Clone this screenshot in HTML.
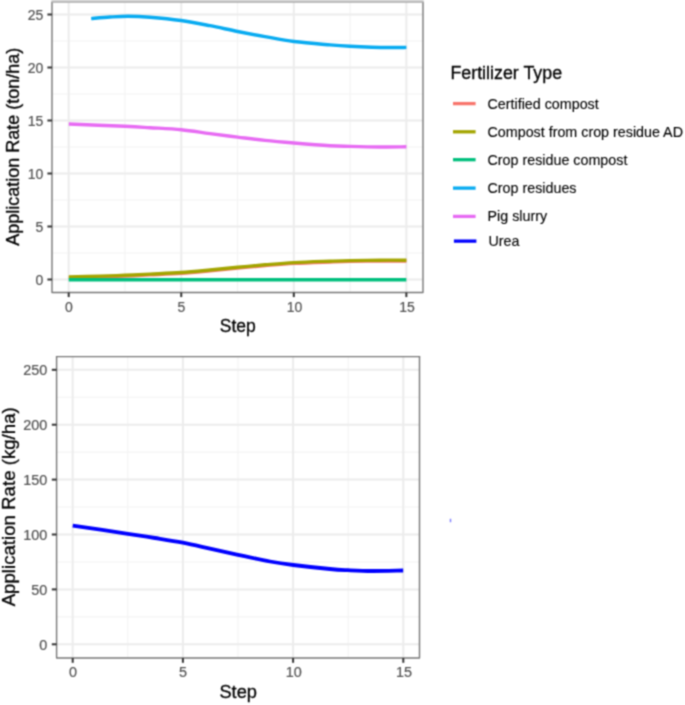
<!DOCTYPE html>
<html lang="en"><head><meta charset="utf-8"><title>Fertilizer application rate by step</title>
<style>
html,body{margin:0;padding:0;background:#fff;}
body{width:685px;height:705px;overflow:hidden;font-family:"Liberation Sans",Arial,Helvetica,sans-serif;}
svg{display:block;}
</style></head><body>
<svg width="685" height="705" viewBox="0 0 685 705" font-family="'Liberation Sans', Arial, Helvetica, sans-serif">
<defs><filter id="soft" x="0" y="0" width="685" height="705" filterUnits="userSpaceOnUse" color-interpolation-filters="sRGB"><feConvolveMatrix order="3" kernelMatrix="0.04840 0.12320 0.04840 0.12320 0.31360 0.12320 0.04840 0.12320 0.04840" divisor="1" edgeMode="duplicate" preserveAlpha="true"/></filter></defs>
<rect width="685" height="705" fill="#fff"/>
<g filter="url(#soft)">
<rect width="685" height="705" fill="#fff"/>
<rect x="51.3" y="0" width="372.4" height="1.3" fill="#dcdcdc"/>
<g>
<line x1="124.98" x2="124.98" y1="2.00" y2="292.50" stroke="#f3f3f3" stroke-width="1.1"/>
<line x1="237.53" x2="237.53" y1="2.00" y2="292.50" stroke="#f3f3f3" stroke-width="1.1"/>
<line x1="350.07" x2="350.07" y1="2.00" y2="292.50" stroke="#f3f3f3" stroke-width="1.1"/>
<line x1="52.00" x2="423.00" y1="253.00" y2="253.00" stroke="#f3f3f3" stroke-width="1.1"/>
<line x1="52.00" x2="423.00" y1="200.00" y2="200.00" stroke="#f3f3f3" stroke-width="1.1"/>
<line x1="52.00" x2="423.00" y1="147.00" y2="147.00" stroke="#f3f3f3" stroke-width="1.1"/>
<line x1="52.00" x2="423.00" y1="94.00" y2="94.00" stroke="#f3f3f3" stroke-width="1.1"/>
<line x1="52.00" x2="423.00" y1="41.00" y2="41.00" stroke="#f3f3f3" stroke-width="1.1"/>
<line x1="68.70" x2="68.70" y1="2.00" y2="292.50" stroke="#ececec" stroke-width="2.0"/>
<line x1="181.25" x2="181.25" y1="2.00" y2="292.50" stroke="#ececec" stroke-width="2.0"/>
<line x1="293.80" x2="293.80" y1="2.00" y2="292.50" stroke="#ececec" stroke-width="2.0"/>
<line x1="406.35" x2="406.35" y1="2.00" y2="292.50" stroke="#ececec" stroke-width="2.0"/>
<line x1="52.00" x2="423.00" y1="279.50" y2="279.50" stroke="#ececec" stroke-width="2.0"/>
<line x1="52.00" x2="423.00" y1="226.50" y2="226.50" stroke="#ececec" stroke-width="2.0"/>
<line x1="52.00" x2="423.00" y1="173.50" y2="173.50" stroke="#ececec" stroke-width="2.0"/>
<line x1="52.00" x2="423.00" y1="120.50" y2="120.50" stroke="#ececec" stroke-width="2.0"/>
<line x1="52.00" x2="423.00" y1="67.50" y2="67.50" stroke="#ececec" stroke-width="2.0"/>
<line x1="52.00" x2="423.00" y1="14.50" y2="14.50" stroke="#ececec" stroke-width="2.0"/>
</g>
<g fill="none" stroke-width="3.4" stroke-linecap="butt" stroke-linejoin="round">
<path d="M68.80,277.70 C74.00,277.57 90.63,277.17 100.00,276.90 C109.37,276.63 116.67,276.43 125.00,276.10 C133.33,275.77 140.67,275.37 150.00,274.90 C159.33,274.43 171.00,273.98 181.00,273.30 C191.00,272.62 200.57,271.67 210.00,270.80 C219.43,269.93 228.43,268.97 237.60,268.10 C246.77,267.23 255.60,266.38 265.00,265.60 C274.40,264.82 283.17,264.00 294.00,263.40 C304.83,262.80 320.67,262.33 330.00,262.00 C339.33,261.67 341.67,261.57 350.00,261.40 C358.33,261.23 370.60,261.07 380.00,261.00 C389.40,260.93 402.00,261.00 406.40,261.00" stroke="#F8766D"/>
<path d="M68.80,276.90 C74.00,276.77 90.63,276.37 100.00,276.10 C109.37,275.83 116.67,275.63 125.00,275.30 C133.33,274.97 140.67,274.57 150.00,274.10 C159.33,273.63 171.00,273.18 181.00,272.50 C191.00,271.82 200.57,270.87 210.00,270.00 C219.43,269.13 228.43,268.17 237.60,267.30 C246.77,266.43 255.60,265.58 265.00,264.80 C274.40,264.02 283.17,263.20 294.00,262.60 C304.83,262.00 320.67,261.53 330.00,261.20 C339.33,260.87 341.67,260.77 350.00,260.60 C358.33,260.43 370.60,260.27 380.00,260.20 C389.40,260.13 402.00,260.20 406.40,260.20" stroke="#A3A500"/>
<path d="M68.70,279.80 L406.35,279.80" stroke="#00BF7D"/>
<path d="M91.20,18.60 C94.33,18.33 103.87,17.40 110.00,17.00 C116.13,16.60 121.33,16.17 128.00,16.20 C134.67,16.23 141.17,16.48 150.00,17.20 C158.83,17.92 171.00,19.08 181.00,20.50 C191.00,21.92 200.57,23.87 210.00,25.70 C219.43,27.53 228.43,29.68 237.60,31.50 C246.77,33.32 255.60,34.93 265.00,36.60 C274.40,38.27 283.17,40.12 294.00,41.50 C304.83,42.88 320.67,44.10 330.00,44.90 C339.33,45.70 343.00,45.92 350.00,46.30 C357.00,46.68 365.33,47.00 372.00,47.20 C378.67,47.40 384.27,47.47 390.00,47.50 C395.73,47.53 403.67,47.42 406.40,47.40" stroke="#08ABF1"/>
<path d="M68.80,124.00 C78.17,124.38 111.47,125.68 125.00,126.30 C138.53,126.92 140.62,127.13 150.00,127.70 C159.38,128.27 171.30,128.72 181.30,129.70 C191.30,130.68 200.62,132.37 210.00,133.60 C219.38,134.83 228.43,135.97 237.60,137.10 C246.77,138.23 255.60,139.42 265.00,140.40 C274.40,141.38 283.17,142.12 294.00,143.00 C304.83,143.88 320.67,145.13 330.00,145.70 C339.33,146.27 341.67,146.18 350.00,146.40 C358.33,146.62 370.60,146.93 380.00,147.00 C389.40,147.07 402.00,146.83 406.40,146.80" stroke="#E76BF3"/>
</g>
<path d="M52.00,2.00 V292.50 H423.00 V2.00" fill="none" stroke="#787878" stroke-width="1.4" stroke-linejoin="round"/>
<line x1="51.30" x2="423.70" y1="2.00" y2="2.00" stroke="#a8a8a8" stroke-width="1.4"/>
<line x1="68.70" x2="68.70" y1="292.50" y2="297.10" stroke="#333" stroke-width="2.0"/>
<text transform="translate(68.90,311.60) scale(1,1.080)" font-size="14.00" fill="#525252" stroke="#525252" stroke-width="0.2" text-anchor="middle">0</text>
<line x1="181.25" x2="181.25" y1="292.50" y2="297.10" stroke="#333" stroke-width="2.0"/>
<text transform="translate(181.45,311.60) scale(1,1.080)" font-size="14.00" fill="#525252" stroke="#525252" stroke-width="0.2" text-anchor="middle">5</text>
<line x1="293.80" x2="293.80" y1="292.50" y2="297.10" stroke="#333" stroke-width="2.0"/>
<text transform="translate(294.50,311.60) scale(1,1.080)" font-size="14.00" fill="#525252" stroke="#525252" stroke-width="0.2" text-anchor="middle">10</text>
<line x1="406.35" x2="406.35" y1="292.50" y2="297.10" stroke="#333" stroke-width="2.0"/>
<text transform="translate(407.05,311.60) scale(1,1.080)" font-size="14.00" fill="#525252" stroke="#525252" stroke-width="0.2" text-anchor="middle">15</text>
<line x1="47.40" x2="52.00" y1="279.50" y2="279.50" stroke="#333" stroke-width="2.0"/>
<text transform="translate(43.20,284.61) scale(1,1.080)" font-size="14.00" fill="#525252" stroke="#525252" stroke-width="0.2" text-anchor="end">0</text>
<line x1="47.40" x2="52.00" y1="226.50" y2="226.50" stroke="#333" stroke-width="2.0"/>
<text transform="translate(43.20,231.61) scale(1,1.080)" font-size="14.00" fill="#525252" stroke="#525252" stroke-width="0.2" text-anchor="end">5</text>
<line x1="47.40" x2="52.00" y1="173.50" y2="173.50" stroke="#333" stroke-width="2.0"/>
<text transform="translate(43.20,178.61) scale(1,1.080)" font-size="14.00" fill="#525252" stroke="#525252" stroke-width="0.2" text-anchor="end">10</text>
<line x1="47.40" x2="52.00" y1="120.50" y2="120.50" stroke="#333" stroke-width="2.0"/>
<text transform="translate(43.20,125.61) scale(1,1.080)" font-size="14.00" fill="#525252" stroke="#525252" stroke-width="0.2" text-anchor="end">15</text>
<line x1="47.40" x2="52.00" y1="67.50" y2="67.50" stroke="#333" stroke-width="2.0"/>
<text transform="translate(43.20,72.61) scale(1,1.080)" font-size="14.00" fill="#525252" stroke="#525252" stroke-width="0.2" text-anchor="end">20</text>
<line x1="47.40" x2="52.00" y1="14.50" y2="14.50" stroke="#333" stroke-width="2.0"/>
<text transform="translate(43.20,19.61) scale(1,1.080)" font-size="14.00" fill="#525252" stroke="#525252" stroke-width="0.2" text-anchor="end">25</text>
<text x="237.8" y="331.6" font-size="17.5" fill="#000" stroke="#000" stroke-width="0.3" text-anchor="middle">Step</text>
<text transform="translate(19.2,146.8) rotate(-90)" font-size="18.0" fill="#000" stroke="#000" stroke-width="0.3" text-anchor="middle">Application Rate (ton/ha)</text>
<g>
<line x1="127.80" x2="127.80" y1="356.60" y2="658.00" stroke="#f3f3f3" stroke-width="1.1"/>
<line x1="238.00" x2="238.00" y1="356.60" y2="658.00" stroke="#f3f3f3" stroke-width="1.1"/>
<line x1="348.20" x2="348.20" y1="356.60" y2="658.00" stroke="#f3f3f3" stroke-width="1.1"/>
<line x1="56.60" x2="419.50" y1="616.85" y2="616.85" stroke="#f3f3f3" stroke-width="1.1"/>
<line x1="56.60" x2="419.50" y1="561.95" y2="561.95" stroke="#f3f3f3" stroke-width="1.1"/>
<line x1="56.60" x2="419.50" y1="507.05" y2="507.05" stroke="#f3f3f3" stroke-width="1.1"/>
<line x1="56.60" x2="419.50" y1="452.15" y2="452.15" stroke="#f3f3f3" stroke-width="1.1"/>
<line x1="56.60" x2="419.50" y1="397.25" y2="397.25" stroke="#f3f3f3" stroke-width="1.1"/>
<line x1="72.70" x2="72.70" y1="356.60" y2="658.00" stroke="#ececec" stroke-width="2.0"/>
<line x1="182.90" x2="182.90" y1="356.60" y2="658.00" stroke="#ececec" stroke-width="2.0"/>
<line x1="293.10" x2="293.10" y1="356.60" y2="658.00" stroke="#ececec" stroke-width="2.0"/>
<line x1="403.30" x2="403.30" y1="356.60" y2="658.00" stroke="#ececec" stroke-width="2.0"/>
<line x1="56.60" x2="419.50" y1="644.30" y2="644.30" stroke="#ececec" stroke-width="2.0"/>
<line x1="56.60" x2="419.50" y1="589.40" y2="589.40" stroke="#ececec" stroke-width="2.0"/>
<line x1="56.60" x2="419.50" y1="534.50" y2="534.50" stroke="#ececec" stroke-width="2.0"/>
<line x1="56.60" x2="419.50" y1="479.60" y2="479.60" stroke="#ececec" stroke-width="2.0"/>
<line x1="56.60" x2="419.50" y1="424.70" y2="424.70" stroke="#ececec" stroke-width="2.0"/>
<line x1="56.60" x2="419.50" y1="369.80" y2="369.80" stroke="#ececec" stroke-width="2.0"/>
</g>
<path d="M72.70,525.60 C81.90,526.97 114.18,531.73 127.90,533.80 C141.62,535.87 145.85,536.52 155.00,538.00 C164.15,539.48 173.63,540.93 182.80,542.70 C191.97,544.47 200.80,546.58 210.00,548.60 C219.20,550.62 228.00,552.65 238.00,554.80 C248.00,556.95 260.78,559.80 270.00,561.50 C279.22,563.20 283.30,563.75 293.30,565.00 C303.30,566.25 320.88,568.13 330.00,569.00 C339.12,569.87 341.00,569.87 348.00,570.20 C355.00,570.53 362.80,570.95 372.00,571.00 C381.20,571.05 398.00,570.58 403.20,570.50" fill="none" stroke="#0000FF" stroke-width="3.8"/>
<path d="M56.60,356.60 V658.00 H419.50 V356.60" fill="none" stroke="#787878" stroke-width="1.4" stroke-linejoin="round"/>
<line x1="55.90" x2="420.20" y1="356.60" y2="356.60" stroke="#787878" stroke-width="1.4"/>
<line x1="72.70" x2="72.70" y1="658.00" y2="662.80" stroke="#333" stroke-width="2.0"/>
<text transform="translate(72.90,677.20) scale(1,1.080)" font-size="14.40" fill="#525252" stroke="#525252" stroke-width="0.2" text-anchor="middle">0</text>
<line x1="182.90" x2="182.90" y1="658.00" y2="662.80" stroke="#333" stroke-width="2.0"/>
<text transform="translate(183.10,677.20) scale(1,1.080)" font-size="14.40" fill="#525252" stroke="#525252" stroke-width="0.2" text-anchor="middle">5</text>
<line x1="293.10" x2="293.10" y1="658.00" y2="662.80" stroke="#333" stroke-width="2.0"/>
<text transform="translate(293.80,677.20) scale(1,1.080)" font-size="14.40" fill="#525252" stroke="#525252" stroke-width="0.2" text-anchor="middle">10</text>
<line x1="403.30" x2="403.30" y1="658.00" y2="662.80" stroke="#333" stroke-width="2.0"/>
<text transform="translate(404.00,677.20) scale(1,1.080)" font-size="14.40" fill="#525252" stroke="#525252" stroke-width="0.2" text-anchor="middle">15</text>
<line x1="51.80" x2="56.60" y1="644.30" y2="644.30" stroke="#333" stroke-width="2.0"/>
<text transform="translate(47.20,649.57) scale(1,1.080)" font-size="14.40" fill="#525252" stroke="#525252" stroke-width="0.2" text-anchor="end">0</text>
<line x1="51.80" x2="56.60" y1="589.40" y2="589.40" stroke="#333" stroke-width="2.0"/>
<text transform="translate(47.20,594.67) scale(1,1.080)" font-size="14.40" fill="#525252" stroke="#525252" stroke-width="0.2" text-anchor="end">50</text>
<line x1="51.80" x2="56.60" y1="534.50" y2="534.50" stroke="#333" stroke-width="2.0"/>
<text transform="translate(47.20,539.77) scale(1,1.080)" font-size="14.40" fill="#525252" stroke="#525252" stroke-width="0.2" text-anchor="end">100</text>
<line x1="51.80" x2="56.60" y1="479.60" y2="479.60" stroke="#333" stroke-width="2.0"/>
<text transform="translate(47.20,484.87) scale(1,1.080)" font-size="14.40" fill="#525252" stroke="#525252" stroke-width="0.2" text-anchor="end">150</text>
<line x1="51.80" x2="56.60" y1="424.70" y2="424.70" stroke="#333" stroke-width="2.0"/>
<text transform="translate(47.20,429.97) scale(1,1.080)" font-size="14.40" fill="#525252" stroke="#525252" stroke-width="0.2" text-anchor="end">200</text>
<line x1="51.80" x2="56.60" y1="369.80" y2="369.80" stroke="#333" stroke-width="2.0"/>
<text transform="translate(47.20,375.07) scale(1,1.080)" font-size="14.40" fill="#525252" stroke="#525252" stroke-width="0.2" text-anchor="end">250</text>
<text x="238.2" y="698.3" font-size="18.25" fill="#000" stroke="#000" stroke-width="0.3" text-anchor="middle">Step</text>
<text transform="translate(14.65,506.8) rotate(-90)" font-size="18.67" fill="#000" stroke="#000" stroke-width="0.3" text-anchor="middle">Application Rate (kg/ha)</text>
<text x="450.4" y="78.5" font-size="17.85" fill="#000" stroke="#000" stroke-width="0.3">Fertilizer Type</text>
<line x1="453.0" x2="475.6" y1="103.60" y2="103.60" stroke="#F8766D" stroke-width="3.3"/>
<text x="487.50" y="108.60" font-size="14.3" fill="#000" stroke="#000" stroke-width="0.12">Certified compost</text>
<line x1="453.0" x2="475.6" y1="131.80" y2="131.80" stroke="#A3A500" stroke-width="3.3"/>
<text x="487.50" y="136.80" font-size="14.3" fill="#000" stroke="#000" stroke-width="0.12">Compost from crop residue AD</text>
<line x1="453.0" x2="475.6" y1="159.70" y2="159.70" stroke="#00BF7D" stroke-width="3.3"/>
<text x="487.50" y="164.70" font-size="14.3" fill="#000" stroke="#000" stroke-width="0.12">Crop residue compost</text>
<line x1="453.0" x2="475.6" y1="188.10" y2="188.10" stroke="#08ABF1" stroke-width="3.3"/>
<text x="487.50" y="193.10" font-size="14.3" fill="#000" stroke="#000" stroke-width="0.12">Crop residues</text>
<line x1="453.0" x2="475.6" y1="216.40" y2="216.40" stroke="#E76BF3" stroke-width="3.3"/>
<text x="487.50" y="221.40" font-size="14.3" fill="#000" stroke="#000" stroke-width="0.12">Pig slurry</text>
<line x1="453.9" x2="476.4" y1="241.10" y2="241.10" stroke="#0000FF" stroke-width="3.3"/>
<text x="488.50" y="246.10" font-size="14.3" fill="#000" stroke="#000" stroke-width="0.12">Urea</text>
<rect x="449.8" y="518.8" width="1.4" height="3.4" fill="#7a7aff"/>
</g>
</svg>
</body></html>
